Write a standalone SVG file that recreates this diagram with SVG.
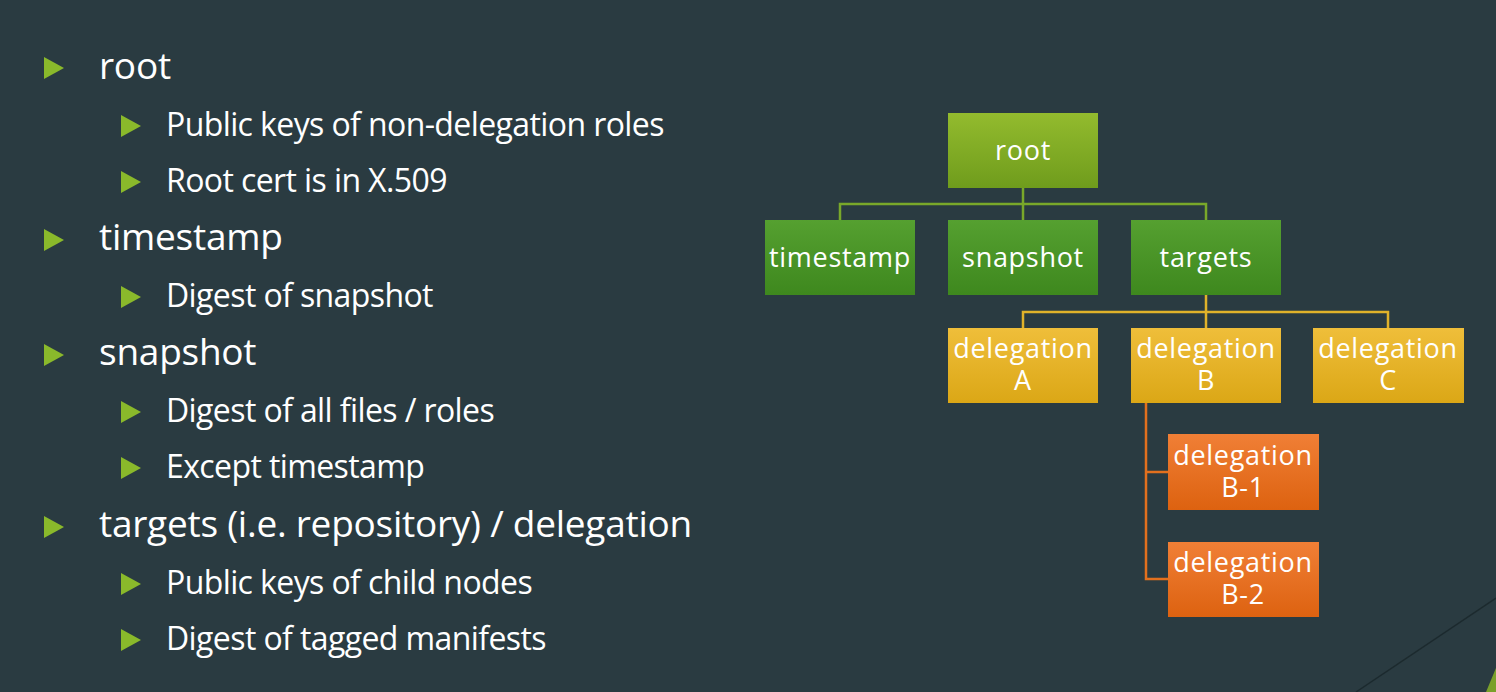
<svg xmlns="http://www.w3.org/2000/svg" width="1496" height="692" viewBox="0 0 1496 692">
<defs>
<linearGradient id="gRoot" x1="0" y1="0" x2="0" y2="1"><stop offset="0" stop-color="#93bb2e"/><stop offset="1" stop-color="#6f9c1c"/></linearGradient>
<linearGradient id="gMid" x1="0" y1="0" x2="0" y2="1"><stop offset="0" stop-color="#55a030"/><stop offset="1" stop-color="#3e881e"/></linearGradient>
<linearGradient id="gDel" x1="0" y1="0" x2="0" y2="1"><stop offset="0" stop-color="#efbe3a"/><stop offset="1" stop-color="#dba716"/></linearGradient>
<linearGradient id="gSub" x1="0" y1="0" x2="0" y2="1"><stop offset="0" stop-color="#f07f36"/><stop offset="1" stop-color="#dd6210"/></linearGradient>
<polygon id="tri" points="0,0 20,11 0,22" fill="#8ab92b"/>
</defs>
<style>
.bx{stroke:none}
.nt{font-family:"Open Sans","DejaVu Sans",sans-serif;font-size:27px;letter-spacing:0.7px;fill:#ffffff;text-anchor:middle}
.l1{font-family:"Open Sans","DejaVu Sans",sans-serif;font-size:37px;letter-spacing:-0.25px;fill:#ffffff}
.l2{font-family:"Open Sans","DejaVu Sans",sans-serif;font-size:32px;letter-spacing:-0.6px;fill:#ffffff}
.cg{stroke:#79a82a;stroke-width:2.5;fill:none}
.cy{stroke:#e0b22a;stroke-width:2.5;fill:none}
.co{stroke:#e2701e;stroke-width:2.5;fill:none}
</style>
<rect width="1496" height="692" fill="#2a3b41"/>
<line x1="1356" y1="692" x2="1496" y2="598" stroke="#1c2a2e" stroke-width="1.5"/>
<polygon points="1496,668 1496,692 1486,692" fill="#7aa02a"/>

<g id="bullets">
<use href="#tri" x="44" y="57"/>
<use href="#tri" x="121" y="115"/>
<use href="#tri" x="121" y="171"/>
<use href="#tri" x="44" y="229"/>
<use href="#tri" x="121" y="286"/>
<use href="#tri" x="44" y="344"/>
<use href="#tri" x="121" y="401"/>
<use href="#tri" x="121" y="457"/>
<use href="#tri" x="44" y="516"/>
<use href="#tri" x="121" y="573"/>
<use href="#tri" x="121" y="629"/>
<text class="l1" x="99" y="79">root</text>
<text class="l2" x="166" y="136">Public keys of non-delegation roles</text>
<text class="l2" x="166" y="192">Root cert is in X.509</text>
<text class="l1" x="99" y="250">timestamp</text>
<text class="l2" x="166" y="307">Digest of snapshot</text>
<text class="l1" x="99" y="365">snapshot</text>
<text class="l2" x="166" y="422">Digest of all files / roles</text>
<text class="l2" x="166" y="478">Except timestamp</text>
<text class="l1" x="99" y="537">targets (i.e. repository) / delegation</text>
<text class="l2" x="166" y="594">Public keys of child nodes</text>
<text class="l2" x="166" y="650">Digest of tagged manifests</text>
</g>

<g id="connectors">
<path class="cg" d="M1023,188 V204 M840,220 V204 H1206 V220 M1023,204 V220"/>
<path class="cy" d="M1206,295 V328 M1023,328 V312 H1388 V328"/>
<path class="co" d="M1146,403 V579 H1168 M1146,472 H1168"/>
</g>

<g id="n-root"><rect class="bx" x="948" y="113" width="150" height="75" fill="url(#gRoot)"/><text class="nt" x="1023" y="160">root</text></g>
<g id="n-timestamp"><rect class="bx" x="765" y="220" width="150" height="75" fill="url(#gMid)"/><text class="nt" x="840" y="267">timestamp</text></g>
<g id="n-snapshot"><rect class="bx" x="948" y="220" width="150" height="75" fill="url(#gMid)"/><text class="nt" x="1023" y="267">snapshot</text></g>
<g id="n-targets"><rect class="bx" x="1131" y="220" width="150" height="75" fill="url(#gMid)"/><text class="nt" x="1206" y="267">targets</text></g>
<g id="n-delA"><rect class="bx" x="948" y="328" width="150" height="75" fill="url(#gDel)"/><text class="nt" x="1023" y="358">delegation</text><text class="nt" x="1023" y="390">A</text></g>
<g id="n-delB"><rect class="bx" x="1131" y="328" width="150" height="75" fill="url(#gDel)"/><text class="nt" x="1206" y="358">delegation</text><text class="nt" x="1206" y="390">B</text></g>
<g id="n-delC"><rect class="bx" x="1313" y="328" width="151" height="75" fill="url(#gDel)"/><text class="nt" x="1388" y="358">delegation</text><text class="nt" x="1388" y="390">C</text></g>
<g id="n-delB1"><rect class="bx" x="1168" y="434" width="151" height="76" fill="url(#gSub)"/><text class="nt" x="1243" y="465">delegation</text><text class="nt" x="1243" y="497">B-1</text></g>
<g id="n-delB2"><rect class="bx" x="1168" y="542" width="151" height="75" fill="url(#gSub)"/><text class="nt" x="1243" y="572">delegation</text><text class="nt" x="1243" y="604">B-2</text></g>
</svg>
